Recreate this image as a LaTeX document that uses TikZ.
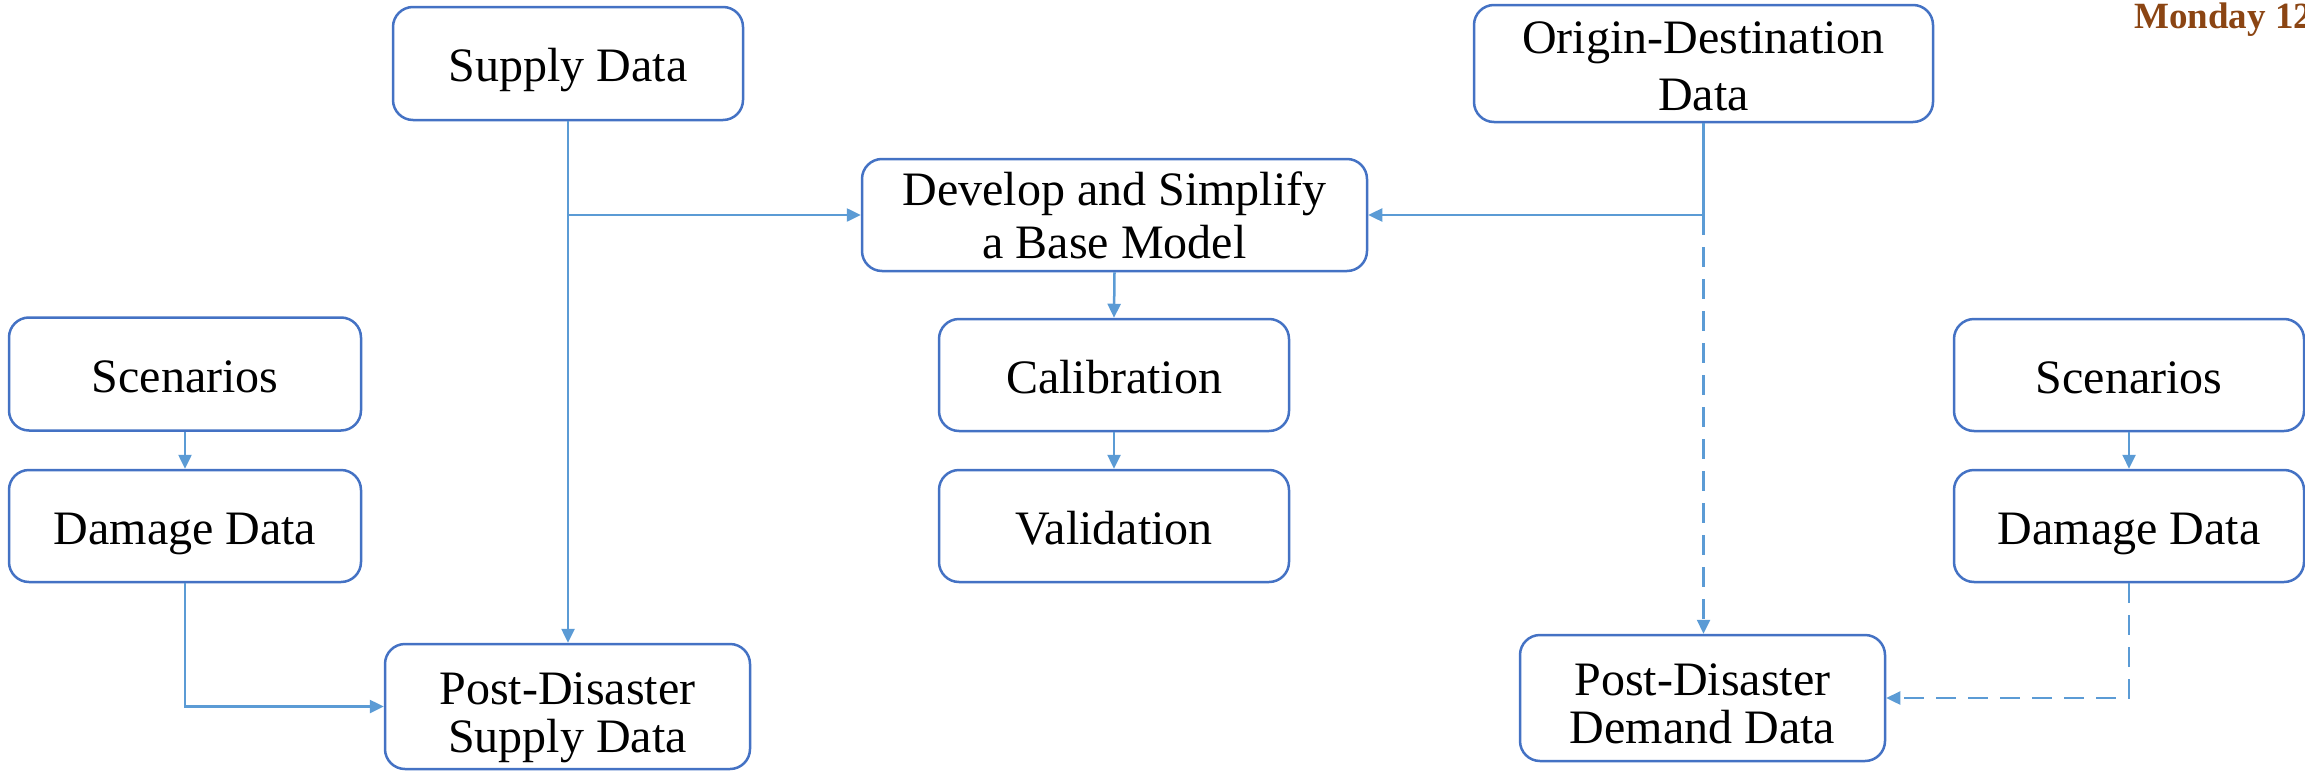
\documentclass[tikz,border=0pt]{standalone}
\usepackage{fontspec}
\setmainfont{Liberation Serif}
\usetikzlibrary{arrows.meta}
\definecolor{boxblue}{HTML}{4472C4}
\definecolor{lineblue}{HTML}{5B9BD5}
\definecolor{datebrown}{HTML}{8B4513}
\newcommand{\topstrut}[1]{\rule{0pt}{#1pt}}
\newcommand{\botstrut}[1]{\rule[-#1pt]{0pt}{#1pt}}
\tikzset{
  flowbox/.style={draw=boxblue, line width=2.5pt, rounded corners=20pt, fill=white,
    align=center, inner sep=0pt, font=\fontsize{48}{55}\selectfont},
  oneline/.style={flowbox, text height=36pt, text depth=0pt},
  conn/.style={draw=lineblue, line width=2.5pt, -{Triangle[length=14pt,width=13pt]}},
  plainconn/.style={draw=lineblue, line width=2.5pt},
  dashconn/.style={conn, dash pattern=on 20pt off 12pt},
}
\begin{document}
\begin{tikzpicture}[x=1pt,y=-1pt]
\useasboundingbox (0,0) rectangle (2305,771);
\node[oneline, minimum width=350pt, minimum height=113pt] (sup) at (568,63.5) {Supply Data};
\node[flowbox, font=\fontsize{48}{57}\selectfont, minimum width=459pt, minimum height=113pt] (od) at (1703.5,63.5) {\topstrut{48}Origin-Destination\\Data\botstrut{12}};
\node[flowbox, font=\fontsize{48}{53}\selectfont, minimum width=505pt, minimum height=112pt] (dev) at (1114.5,215) {\topstrut{45}Develop and Simplify\\a Base Model\botstrut{12}};
\node[oneline, minimum width=350pt, minimum height=112pt] (cal) at (1114,375) {Calibration};
\node[oneline, minimum width=350pt, minimum height=112pt] (val) at (1114,526) {Validation};
\node[oneline, minimum width=352pt, minimum height=113pt] (scL) at (185,374) {Scenarios};
\node[oneline, minimum width=352pt, minimum height=112pt] (dmL) at (185,526) {Damage Data};
\node[flowbox, font=\fontsize{48}{48}\selectfont, minimum width=365pt, minimum height=125pt] (pds) at (567.5,706.5) {\topstrut{55}Post-Disaster\\Supply Data\botstrut{10}};
\node[oneline, minimum width=350pt, minimum height=112pt] (scR) at (2129,375) {Scenarios};
\node[oneline, minimum width=350pt, minimum height=112pt] (dmR) at (2129,526) {Damage Data};
\node[flowbox, font=\fontsize{48}{48}\selectfont, minimum width=365pt, minimum height=126pt] (pdd) at (1702.5,698) {\topstrut{52}Post-Disaster\\Demand Data\botstrut{10}};
\node[anchor=base west, inner sep=0pt, text=datebrown, font=\fontsize{37}{40}\selectfont\bfseries] (date) at (2134,28) {Monday 12};

\coordinate (j1) at (sup.south |- dev.west);
\coordinate (j2) at (od.south |- dev.east);

\draw[conn] (sup.south) -- (sup.south |- pds.north);
\draw[conn] (j1) -- (dev.west);
\draw[plainconn] (od.south) -- (j2);
\draw[conn] (j2) -- (dev.east);
\draw[dashconn] (j2) -- (j2 |- pdd.north);
\draw[conn] (dev.south) -- (cal.north);
\draw[conn] (cal.south) -- (val.north);
\draw[conn] (scL.south) -- (dmL.north);
\draw[conn] (scR.south) -- (dmR.north);
\draw[conn] (dmL.south) |- (pds.west);
\draw[dashconn] (dmR.south) |- (pdd.east);
\end{tikzpicture}
\end{document}
